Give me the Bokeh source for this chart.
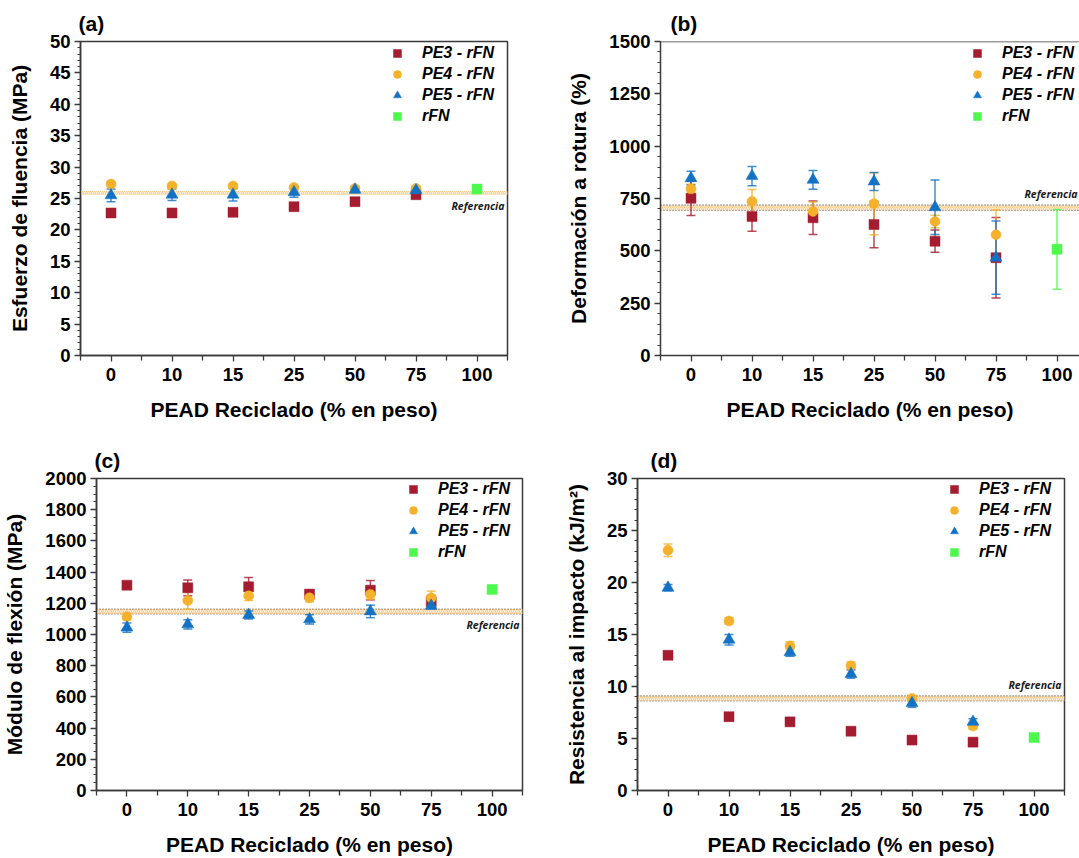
import numpy as np
from bokeh.plotting import figure
from bokeh.models import (ColumnDataSource, Whisker, TeeHead, BoxAnnotation, Span, Label,
                          Legend, LegendItem, FixedTicker, Range1d)
from bokeh.layouts import row, column
from bokeh.embed import file_html
from bokeh.resources import INLINE

# ---------------- data ----------------
categories = ["0", "10", "15", "25", "50", "75", "100"]
pe_cats = ["0", "10", "15", "25", "50", "75"]
rfn_cats = ["100"]
x_title = "PEAD Reciclado (% en peso)"

# (a) Esfuerzo de fluencia (MPa)
a_pe3 = [22.7, 22.7, 22.8, 23.7, 24.5, 25.6]
a_pe3_err = [0.3, 0.3, 0.3, 0.3, 0.4, 0.4]
a_pe4 = [27.3, 27.0, 27.0, 26.75, 26.6, 26.6]
a_pe4_err = [0.3, 0.3, 0.3, 0.3, 0.3, 0.3]
a_pe5 = [25.5, 25.6, 25.6, 26.0, 26.4, 26.3]
a_pe5_err = [1.0, 0.9, 1.0, 0.8, 0.5, 0.4]
a_rfn = [26.5]
a_rfn_err = [0.2]
a_ref, a_ref_sd = 25.9, 0.3

# (b) Deformacion a rotura (%)
b_pe3 = [751, 664, 658, 626, 546, 467]
b_pe3_err = [82, 70, 80, 111, 53, 192]
b_pe4 = [796, 736, 688, 725, 640, 577]
b_pe4_err = [22, 57, 45, 148, 30, 119]
b_pe5 = [847, 857, 839, 831, 708, 467]
b_pe5_err = [33, 46, 45, 43, 130, 175]
b_rfn = [507]
b_rfn_err = [190]
b_ref, b_ref_sd = 706, 13

# (c) Modulo de flexion (MPa)
c_pe3 = [1316, 1299, 1306, 1259, 1284, 1210]
c_pe3_err = [10, 50, 60, 25, 62, 40]
c_pe4 = [1114, 1218, 1248, 1235, 1257, 1235]
c_pe4_err = [20, 55, 30, 25, 30, 43]
c_pe5 = [1044, 1065, 1125, 1097, 1148, 1184]
c_pe5_err = [30, 30, 25, 30, 40, 20]
c_rfn = [1289]
c_rfn_err = [15]
c_ref, c_ref_sd = 1147, 16

# (d) Resistencia al impacto (kJ/m2)
d_pe3 = [13.0, 7.1, 6.6, 5.7, 4.85, 4.65]
d_pe3_err = [0.3, 0.3, 0.3, 0.2, 0.2, 0.2]
d_pe4 = [23.1, 16.3, 13.9, 12.0, 8.85, 6.2]
d_pe4_err = [0.6, 0.3, 0.4, 0.35, 0.3, 0.3]
d_pe5 = [19.5, 14.5, 13.3, 11.2, 8.4, 6.6]
d_pe5_err = [0.3, 0.5, 0.4, 0.4, 0.4, 0.3]
d_rfn = [5.1]
d_rfn_err = [0.2]
d_ref, d_ref_sd = 8.85, 0.25

series_names = ["PE3 - rFN", "PE4 - rFN", "PE5 - rFN", "rFN"]
colors = ["#A51C30", "#F4B12B", "#1372C4", "#4DF94D"]
markers = ["square", "circle", "triangle", "square"]
sizes = [10, 10, 12, 10]

FONT = "Liberation Sans"
AX = "#3a3a3a"


def xpos(cats):
    return [categories.index(c) for c in cats]


def make_panel(tag, ytitle, yend, ymajor, yminor, data, ref, ref_sd, ref_side,
               width, height, bl, br, bt, bb, title_offset, cut_right=False, dotted=True):
    frame_w = width - bl - br
    px_unit = 61.0
    x_end = -0.5 + frame_w / px_unit
    p = figure(width=width, height=height, output_backend="svg", toolbar_location=None,
               x_range=Range1d(-0.5, x_end), y_range=Range1d(0, yend),
               min_border_left=bl, min_border_right=br, min_border_top=bt, min_border_bottom=bb)
    p.xgrid.visible = False
    p.ygrid.visible = False
    p.background_fill_color = "white"
    p.border_fill_color = "white"
    if cut_right:
        p.outline_line_color = None
        p.add_layout(Span(location=yend, dimension="width", line_color=AX, line_width=1.5))
    else:
        p.outline_line_color = AX
        p.outline_line_width = 1.5

    # title tag
    p.title.text = tag
    p.title.align = "left"
    p.title.offset = title_offset
    p.title.text_font = FONT
    p.title.text_font_size = "21px"
    p.title.text_font_style = "bold"
    p.title.text_color = "black"
    p.title.standoff = 13

    # x axis
    xa = p.xaxis[0]
    xa.ticker = FixedTicker(ticks=list(range(len(categories))),
                            minor_ticks=[i - 0.5 for i in range(len(categories) + 1)])
    xa.major_label_overrides = {i: c for i, c in enumerate(categories)}
    xa.axis_label = x_title
    xa.axis_label_text_font = FONT
    xa.axis_label_text_font_size = "21px"
    xa.axis_label_text_font_style = "bold"
    xa.axis_label_text_color = "black"
    xa.major_label_text_font = FONT
    xa.major_label_text_font_size = "18.5px"
    xa.major_label_text_font_style = "bold"
    xa.major_label_text_color = "black"
    xa.major_tick_out = 6
    xa.major_tick_in = 0
    xa.minor_tick_out = 5
    xa.minor_tick_in = 0
    xa.major_label_standoff = 6
    xa.axis_label_standoff = 14
    xa.axis_line_color = AX
    xa.axis_line_width = 1.5
    xa.major_tick_line_color = AX
    xa.minor_tick_line_color = AX
    xa.major_tick_line_width = 1.3
    xa.minor_tick_line_width = 1.3

    ya = p.yaxis[0]
    ya.ticker = FixedTicker(ticks=list(np.arange(0, yend + 0.001, ymajor)),
                            minor_ticks=list(np.arange(0, yend + 0.001, yminor)))
    ya.axis_label = ytitle
    ya.axis_label_text_font = FONT
    ya.axis_label_text_font_size = "21px"
    ya.axis_label_text_font_style = "bold"
    ya.axis_label_text_color = "black"
    ya.major_label_text_font = FONT
    ya.major_label_text_font_size = "18.5px"
    ya.major_label_text_font_style = "bold"
    ya.major_label_text_color = "black"
    ya.major_tick_out = 6
    ya.major_tick_in = 0
    ya.minor_tick_out = 3
    ya.minor_tick_in = 0
    ya.major_label_standoff = 4
    ya.axis_label_standoff = 16
    ya.axis_line_color = AX
    ya.axis_line_width = 1.5
    ya.major_tick_line_color = AX
    ya.minor_tick_line_color = AX
    ya.major_tick_line_width = 1.3
    ya.minor_tick_line_width = 1.0

    # reference band
    band = BoxAnnotation(bottom=ref - ref_sd, top=ref + ref_sd, level="underlay",
                         fill_color="#FDEBD2", fill_alpha=1.0, line_alpha=0,
                         hatch_pattern="right_diagonal_line", hatch_color="#F7C47E",
                         hatch_scale=4, hatch_weight=1, hatch_alpha=0.8)
    p.add_layout(band)
    if dotted:
        p.add_layout(Span(location=ref + ref_sd, dimension="width", line_color="#333333",
                          line_width=1, line_dash="1 2", level="underlay"))
        p.add_layout(Span(location=ref - ref_sd, dimension="width", line_color="#666666",
                          line_width=1, line_dash="1 2", level="underlay"))
    lab_x = min(6.45, x_end)
    lab_xoff = -2 if cut_right else 0
    if ref_side == "below":
        lab = Label(x=lab_x, y=ref - ref_sd, x_offset=lab_xoff, y_offset=-11, text="Referencia",
                    text_align="right", text_baseline="middle")
    else:
        lab = Label(x=lab_x, y=ref + ref_sd, x_offset=lab_xoff, y_offset=11, text="Referencia",
                    text_align="right", text_baseline="middle")
    lab.text_font = "Open Sans"
    lab.text_font_size = "10.5px"
    lab.text_font_style = "bold italic"
    lab.text_color = "#1a1a1a"
    p.add_layout(lab)

    items = []
    for i, (cats, vals, errs) in enumerate(data):
        xs = xpos(cats)
        src = ColumnDataSource(dict(x=xs, y=vals,
                                    lo=[v - e for v, e in zip(vals, errs)],
                                    hi=[v + e for v, e in zip(vals, errs)]))
        w = Whisker(base="x", lower="lo", upper="hi", source=src, dimension="height",
                    line_color=colors[i], line_width=1.5, line_alpha=0.8, level="underlay",
                    upper_head=TeeHead(size=9, line_color=colors[i], line_width=1.5, line_alpha=0.8),
                    lower_head=TeeHead(size=9, line_color=colors[i], line_width=1.5, line_alpha=0.8))
        p.add_layout(w)
        r = p.scatter("x", "y", source=src, marker=markers[i], size=sizes[i],
                      fill_color=colors[i], line_color=colors[i], line_width=0.5)
        items.append(LegendItem(label=series_names[i], renderers=[r]))

    frame_h = height - bt - bb
    legend = Legend(items=items, location=(307, frame_h - 2 - 83),
                    label_text_font=FONT, label_text_font_style="bold italic",
                    label_text_font_size="16px", label_text_color="black",
                    label_height=20, glyph_height=20,
                    glyph_width=20, label_standoff=15, spacing=1, padding=0, margin=0,
                    border_line_alpha=0, background_fill_alpha=0)
    p.add_layout(legend)
    return p


pa = make_panel("(a)", "Esfuerzo de fluencia (MPa)", 50, 5, 1,
                [(pe_cats, a_pe3, a_pe3_err), (pe_cats, a_pe4, a_pe4_err),
                 (pe_cats, a_pe5, a_pe5_err), (rfn_cats, a_rfn, a_rfn_err)],
                a_ref, a_ref_sd, "below", 540, 430, 80, 33, 41, 75, -2, dotted=False)
pb = make_panel("(b)", "Deformación a rotura (%)", 1500, 250, 50,
                [(pe_cats, b_pe3, b_pe3_err), (pe_cats, b_pe4, b_pe4_err),
                 (pe_cats, b_pe5, b_pe5_err), (rfn_cats, b_rfn, b_rfn_err)],
                b_ref, b_ref_sd, "above", 539, 430, 120, 0, 41, 75, 10, cut_right=True)
pc = make_panel("(c)", "Módulo de flexión (MPa)", 2000, 200, 50,
                [(pe_cats, c_pe3, c_pe3_err), (pe_cats, c_pe4, c_pe4_err),
                 (pe_cats, c_pe5, c_pe5_err), (rfn_cats, c_rfn, c_rfn_err)],
                c_ref, c_ref_sd, "below", 540, 428, 95, 18, 48, 67, -2)
pd = make_panel("(d)", "Resistencia al impacto (kJ/m²)", 30, 5, 1,
                [(pe_cats, d_pe3, d_pe3_err), (pe_cats, d_pe4, d_pe4_err),
                 (pe_cats, d_pe5, d_pe5_err), (rfn_cats, d_rfn, d_rfn_err)],
                d_ref, d_ref_sd, "above", 539, 428, 97, 15, 48, 67, 13)

layout = column(row(pa, pb), row(pc, pd))
open("out.html", "w").write(file_html(layout, INLINE))
